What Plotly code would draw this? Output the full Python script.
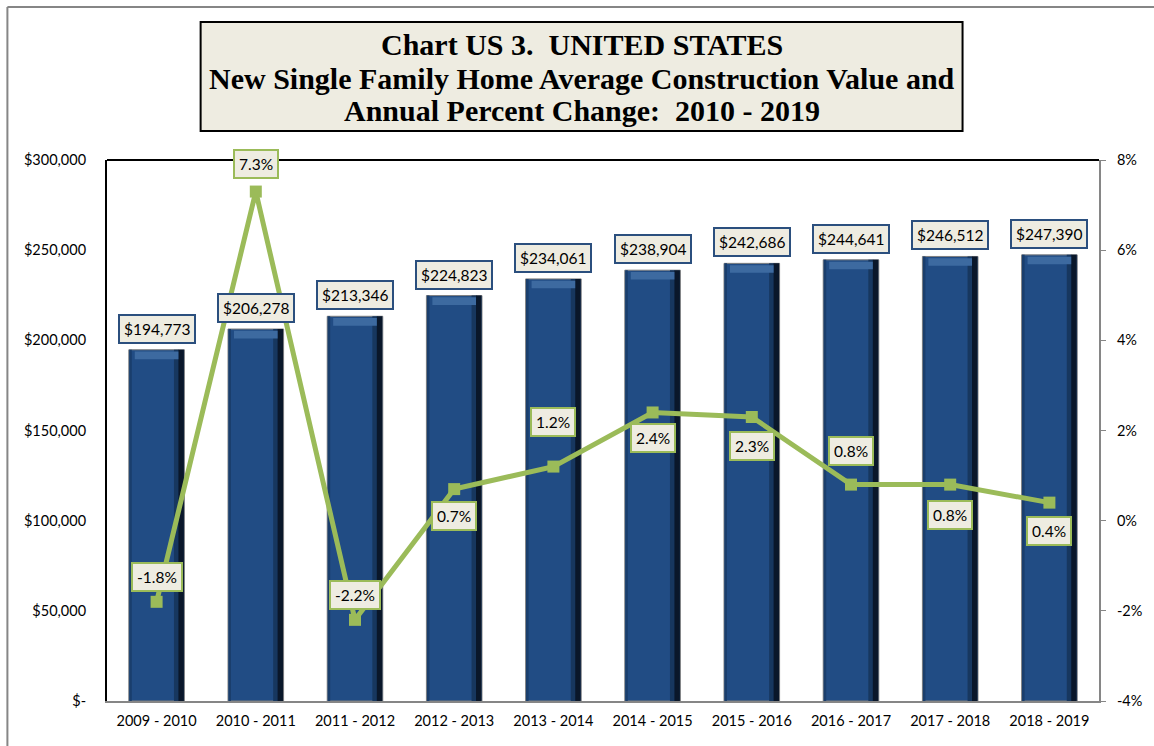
import plotly.graph_objects as go

# ---- data ----
periods = ["2009 - 2010", "2010 - 2011", "2011 - 2012", "2012 - 2013", "2013 - 2014",
           "2014 - 2015", "2015 - 2016", "2016 - 2017", "2017 - 2018", "2018 - 2019"]
avg_value = [194773, 206278, 213346, 224823, 234061, 238904, 242686, 244641, 246512, 247390]
pct_change = [-1.8, 7.3, -2.2, 0.7, 1.2, 2.4, 2.3, 0.8, 0.8, 0.4]

left_ticks = [0, 50000, 100000, 150000, 200000, 250000, 300000]
left_tick_text = ["$-", "$50,000", "$100,000", "$150,000", "$200,000", "$250,000", "$300,000"]
right_ticks = [-4, -2, 0, 2, 4, 6, 8]
right_tick_text = ["-4%", "-2%", "0%", "2%", "4%", "6%", "8%"]

# ---- geometry (pixels) ----
W, H = 1154, 746
PL, PR, PT, PB = 107, 1103, 160, 701


def fx(px):
    return (px - PL) / (PR - PL)


def fy(py):
    return (PB - py) / (PB - PT)


FONT = "Lato"
BLUE = "#214C84"
GREEN = "#9BBB59"
CREAM = "#EEECE1"

fig = go.Figure()

# bars: body, dark right edge, side shading, top bevel highlight
fig.add_trace(go.Bar(x=periods, y=avg_value, width=0.56, offset=-0.28,
                     marker=dict(color=BLUE, line=dict(color="#7F7F7F", width=1)),
                     hoverinfo="skip", showlegend=False))
fig.add_trace(go.Bar(x=periods, y=avg_value, width=0.05, offset=0.175,
                     marker=dict(color="#17375F", line=dict(width=0)),
                     hoverinfo="skip", showlegend=False))
fig.add_trace(go.Bar(x=periods, y=avg_value, width=0.055, offset=0.22,
                     marker=dict(color="#0A172A", line=dict(width=0)),
                     hoverinfo="skip", showlegend=False))
fig.add_trace(go.Bar(x=periods, y=avg_value, width=0.025, offset=-0.275,
                     marker=dict(color="#1A3E6C", line=dict(width=0)),
                     hoverinfo="skip", showlegend=False))
band = 4200
fig.add_trace(go.Bar(x=periods, y=[band] * len(avg_value),
                     base=[v - band - 1000 for v in avg_value],
                     width=0.44, offset=-0.22,
                     marker=dict(color="#3D6AA0", line=dict(width=0)),
                     hoverinfo="skip", showlegend=False))

# percent change line
fig.add_trace(go.Scatter(x=periods, y=pct_change, yaxis="y2", mode="lines+markers",
                         line=dict(color=GREEN, width=5),
                         marker=dict(symbol="square", size=12, color=GREEN),
                         hoverinfo="skip", showlegend=False))

annotations = []

# value labels above bars
for p, v in zip(periods, avg_value):
    annotations.append(dict(x=p, y=v, xref="x", yref="y", yshift=21,
                            text="${:,}".format(v), showarrow=False,
                            font=dict(family=FONT, size=15.5, color="#000000"),
                            bgcolor=CREAM, bordercolor="#2B4F7E", borderwidth=2,
                            borderpad=4))

# percent labels near line markers
pct_shift = [25, 28, 25, -27, 45, -26, -29, 34, -30, -28]
for p, v, s in zip(periods, pct_change, pct_shift):
    annotations.append(dict(x=p, y=v, xref="x", yref="y2", yshift=s,
                            text="{:.1f}%".format(v), showarrow=False,
                            font=dict(family=FONT, size=15.5, color="#000000"),
                            bgcolor=CREAM, bordercolor=GREEN, borderwidth=2,
                            borderpad=4))

# title lines
title_lines = ["Chart US 3.  UNITED STATES",
               "New Single Family Home Average Construction Value and",
               "Annual Percent Change:  2010 - 2019"]
for line, py in zip(title_lines, [45, 78, 111]):
    annotations.append(dict(x=fx(583.5), y=fy(py), xref="paper", yref="paper",
                            text="<b>" + line + "</b>", showarrow=False,
                            xanchor="center", yanchor="middle",
                            font=dict(family="Liberation Serif", size=30, color="#000000")))

shapes = [
    # outer chart frame (left and top visible)
    dict(type="line", xref="paper", yref="paper", x0=fx(7), x1=fx(7), y0=fy(7), y1=fy(760),
         line=dict(color="#868686", width=2)),
    dict(type="line", xref="paper", yref="paper", x0=fx(7), x1=fx(1170), y0=fy(7), y1=fy(7),
         line=dict(color="#868686", width=2)),
    # title box
    dict(type="rect", xref="paper", yref="paper", x0=fx(201), x1=fx(966), y0=fy(131), y1=fy(22),
         fillcolor=CREAM, line=dict(color="#000000", width=2), layer="below"),
    # plot area top border
    dict(type="line", xref="paper", yref="paper", x0=0, x1=1, y0=1, y1=1,
         line=dict(color="#000000", width=2)),
]

fig.update_layout(
    width=W, height=H,
    margin=dict(l=PL, r=W - PR, t=PT, b=H - PB),
    paper_bgcolor="#FFFFFF", plot_bgcolor="#FFFFFF",
    barmode="overlay", bargap=0.44,
    annotations=annotations, shapes=shapes,
    font=dict(family=FONT, size=14.5, color="#000000"),
    xaxis=dict(type="category", range=[-0.5, len(periods) - 0.5],
               showgrid=False, showline=True, linecolor="#868686",
               linewidth=2, ticks="", tickfont=dict(family=FONT, size=14.5, color="#000000"),
               ticklabelstandoff=6),
    yaxis=dict(range=[0, 300000], tickvals=left_ticks, ticktext=left_tick_text,
               showgrid=False, zeroline=False, showline=True, linecolor="#000000",
               linewidth=2, ticks="", tickfont=dict(family=FONT, size=14.5, color="#000000"),
               ticklabelstandoff=16),
    yaxis2=dict(range=[-4, 8], tickvals=right_ticks, ticktext=right_tick_text,
                overlaying="y", side="right", showgrid=False, zeroline=False,
                showline=True, linecolor="#868686", linewidth=2,
                ticks="outside", ticklen=5, tickcolor="#868686", tickwidth=1,
                tickfont=dict(family=FONT, size=14.5, color="#000000"),
                ticklabelstandoff=8),
)

fig.write_html("out.html")
